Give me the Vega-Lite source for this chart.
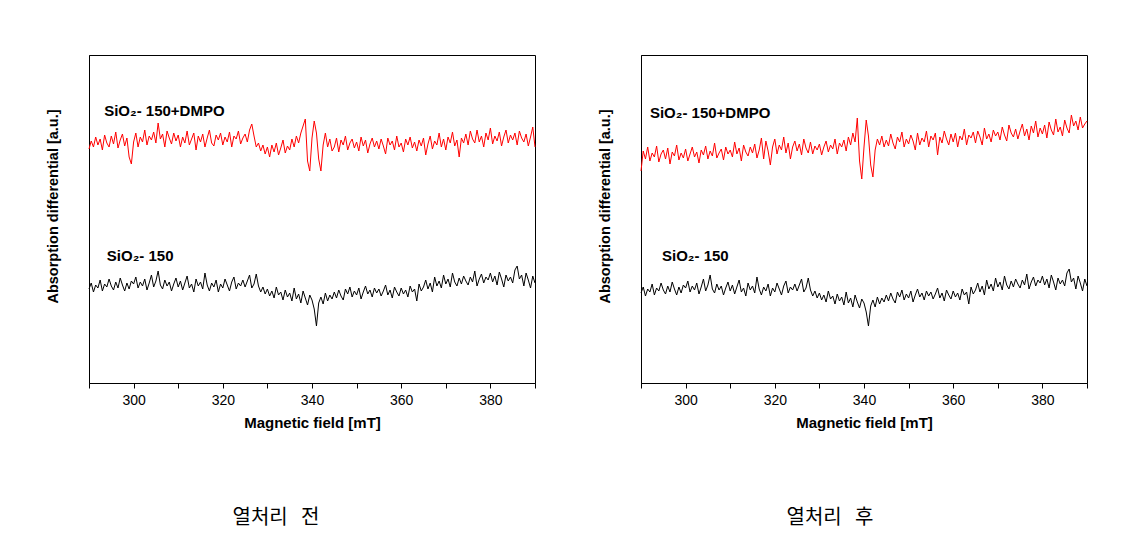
{
"$schema": "https://vega.github.io/schema/vega-lite/v6.json",
"background": "white",
"padding": {"left": 44, "top": 54, "right": 0, "bottom": 0},
"spacing": 58,
"config": {
  "view": {"stroke": "black", "strokeWidth": 1},
  "font": "Liberation Sans",
  "axis": {"grid": false, "domainColor": "black", "tickColor": "black", "labelColor": "black", "titleColor": "black", "labelFont": "Liberation Sans", "titleFont": "Liberation Sans"}
},
"datasets": {
"esr": [
{"x":290,"a":234,"b":94,"c":212,"d":90},{"x":290.5,"a":242,"b":100,"c":232,"d":96},{"x":291,"a":236,"b":91,"c":224,"d":87},{"x":291.5,"a":246,"b":98,"c":236,"d":94},{"x":292,"a":238,"b":95,"c":222,"d":91},{"x":292.5,"a":244,"b":103,"c":230,"d":99},{"x":293,"a":233,"b":92,"c":226,"d":88},{"x":293.5,"a":248,"b":99,"c":237,"d":95},{"x":294,"a":240,"b":96,"c":221,"d":92},{"x":294.5,"a":236,"b":104,"c":229,"d":100},
{"x":295,"a":247,"b":97,"c":233,"d":93},{"x":295.5,"a":239,"b":93,"c":224,"d":89},{"x":296,"a":251,"b":101,"c":235,"d":97},{"x":296.5,"a":235,"b":95,"c":219,"d":91},{"x":297,"a":243,"b":105,"c":231,"d":101},{"x":297.5,"a":249,"b":98,"c":227,"d":94},{"x":298,"a":237,"b":92,"c":238,"d":88},{"x":298.5,"a":245,"b":100,"c":223,"d":96},{"x":299,"a":226,"b":94,"c":230,"d":90},{"x":299.5,"a":219,"b":102,"c":225,"d":98},
{"x":300,"a":241,"b":99,"c":234,"d":95},{"x":300.5,"a":250,"b":106,"c":222,"d":102},{"x":301,"a":236,"b":95,"c":229,"d":91},{"x":301.5,"a":246,"b":101,"c":236,"d":97},{"x":302,"a":241,"b":97,"c":226,"d":93},{"x":302.5,"a":253,"b":104,"c":231,"d":100},{"x":303,"a":238,"b":93,"c":220,"d":89},{"x":303.5,"a":247,"b":100,"c":233,"d":96},{"x":304,"a":243,"b":108,"c":228,"d":104},{"x":304.5,"a":251,"b":96,"c":237,"d":92},
{"x":305,"a":240,"b":102,"c":224,"d":98},{"x":305.5,"a":260,"b":112,"c":232,"d":108},{"x":306,"a":244,"b":98,"c":227,"d":94},{"x":306.5,"a":249,"b":94,"c":240,"d":90},{"x":307,"a":236,"b":103,"c":225,"d":99},{"x":307.5,"a":252,"b":97,"c":230,"d":93},{"x":308,"a":245,"b":101,"c":234,"d":97},{"x":308.5,"a":239,"b":92,"c":223,"d":88},{"x":309,"a":250,"b":99,"c":236,"d":95},{"x":309.5,"a":242,"b":105,"c":229,"d":101},
{"x":310,"a":248,"b":96,"c":233,"d":92},{"x":310.5,"a":236,"b":102,"c":226,"d":98},{"x":311,"a":246,"b":93,"c":241,"d":89},{"x":311.5,"a":240,"b":100,"c":229,"d":96},{"x":312,"a":252,"b":107,"c":235,"d":103},{"x":312.5,"a":238,"b":95,"c":222,"d":91},{"x":313,"a":244,"b":99,"c":238,"d":95},{"x":313.5,"a":250,"b":91,"c":231,"d":87},{"x":314,"a":233,"b":104,"c":227,"d":100},{"x":314.5,"a":247,"b":97,"c":236,"d":93},
{"x":315,"a":241,"b":101,"c":230,"d":97},{"x":315.5,"a":249,"b":94,"c":239,"d":90},{"x":316,"a":236,"b":110,"c":225,"d":106},{"x":316.5,"a":245,"b":98,"c":233,"d":94},{"x":317,"a":253,"b":92,"c":245,"d":88},{"x":317.5,"a":240,"b":100,"c":224,"d":96},{"x":318,"a":237,"b":96,"c":242,"d":92},{"x":318.5,"a":248,"b":103,"c":232,"d":99},{"x":319,"a":243,"b":91,"c":218,"d":87},{"x":319.5,"a":250,"b":99,"c":236,"d":95},
{"x":320,"a":238,"b":95,"c":244,"d":91},{"x":320.5,"a":246,"b":104,"c":229,"d":100},{"x":321,"a":241,"b":98,"c":238,"d":94},{"x":321.5,"a":251,"b":92,"c":233,"d":88},{"x":322,"a":236,"b":101,"c":246,"d":97},{"x":322.5,"a":247,"b":106,"c":230,"d":102},{"x":323,"a":244,"b":94,"c":240,"d":90},{"x":323.5,"a":252,"b":100,"c":224,"d":96},{"x":324,"a":239,"b":97,"c":236,"d":93},{"x":324.5,"a":245,"b":103,"c":242,"d":99},
{"x":325,"a":249,"b":96,"c":232,"d":92},{"x":325.5,"a":241,"b":102,"c":239,"d":98},{"x":326,"a":253,"b":108,"c":228,"d":104},{"x":326.5,"a":259,"b":95,"c":244,"d":91},{"x":327,"a":247,"b":99,"c":235,"d":95},{"x":327.5,"a":236,"b":109,"c":230,"d":105},{"x":328,"a":240,"b":97,"c":241,"d":93},{"x":328.5,"a":232,"b":91,"c":229,"d":87},{"x":329,"a":238,"b":96,"c":237,"d":92},{"x":329.5,"a":229,"b":89,"c":233,"d":85},
{"x":330,"a":236,"b":94,"c":239,"d":90},{"x":330.5,"a":226,"b":87,"c":228,"d":83},{"x":331,"a":238,"b":92,"c":236,"d":88},{"x":331.5,"a":231,"b":85,"c":242,"d":81},{"x":332,"a":240,"b":96,"c":231,"d":92},{"x":332.5,"a":228,"b":88,"c":238,"d":84},{"x":333,"a":235,"b":91,"c":234,"d":87},{"x":333.5,"a":243,"b":83,"c":244,"d":79},{"x":334,"a":230,"b":93,"c":229,"d":89},{"x":334.5,"a":237,"b":86,"c":240,"d":82},
{"x":335,"a":233,"b":90,"c":236,"d":86},{"x":335.5,"a":244,"b":82,"c":243,"d":78},{"x":336,"a":236,"b":95,"c":232,"d":91},{"x":336.5,"a":247,"b":84,"c":246,"d":80},{"x":337,"a":240,"b":89,"c":238,"d":85},{"x":337.5,"a":250,"b":80,"c":250,"d":76},{"x":338,"a":257,"b":92,"c":241,"d":88},{"x":338.5,"a":264,"b":85,"c":265,"d":81},{"x":339,"a":222,"b":78,"c":222,"d":75},{"x":339.5,"a":212,"b":88,"c":204,"d":84},
{"x":340,"a":245,"b":83,"c":236,"d":80},{"x":340.5,"a":262,"b":74,"c":263,"d":71},{"x":341,"a":250,"b":57,"c":247,"d":57},{"x":341.5,"a":224,"b":80,"c":218,"d":77},{"x":342,"a":212,"b":86,"c":206,"d":83},{"x":342.5,"a":238,"b":79,"c":233,"d":76},{"x":343,"a":250,"b":90,"c":244,"d":86},{"x":343.5,"a":236,"b":82,"c":238,"d":79},{"x":344,"a":244,"b":88,"c":247,"d":85},{"x":344.5,"a":232,"b":84,"c":236,"d":81},
{"x":345,"a":236,"b":91,"c":243,"d":88},{"x":345.5,"a":245,"b":85,"c":237,"d":82},{"x":346,"a":231,"b":93,"c":249,"d":90},{"x":346.5,"a":243,"b":87,"c":240,"d":84},{"x":347,"a":238,"b":83,"c":234,"d":80},{"x":347.5,"a":247,"b":94,"c":246,"d":91},{"x":348,"a":233,"b":89,"c":241,"d":86},{"x":348.5,"a":240,"b":96,"c":251,"d":93},{"x":349,"a":244,"b":86,"c":236,"d":83},{"x":349.5,"a":235,"b":92,"c":244,"d":89},
{"x":350,"a":241,"b":88,"c":239,"d":85},{"x":350.5,"a":232,"b":95,"c":248,"d":92},{"x":351,"a":246,"b":84,"c":242,"d":81},{"x":351.5,"a":237,"b":91,"c":233,"d":88},{"x":352,"a":243,"b":97,"c":250,"d":94},{"x":352.5,"a":230,"b":89,"c":238,"d":86},{"x":353,"a":239,"b":93,"c":245,"d":90},{"x":353.5,"a":245,"b":86,"c":241,"d":83},{"x":354,"a":236,"b":95,"c":252,"d":92},{"x":354.5,"a":242,"b":90,"c":236,"d":87},
{"x":355,"a":234,"b":94,"c":247,"d":91},{"x":355.5,"a":244,"b":87,"c":243,"d":84},{"x":356,"a":237,"b":92,"c":250,"d":89},{"x":356.5,"a":229,"b":98,"c":228,"d":95},{"x":357,"a":245,"b":88,"c":246,"d":85},{"x":357.5,"a":238,"b":93,"c":240,"d":90},{"x":358,"a":242,"b":85,"c":252,"d":82},{"x":358.5,"a":233,"b":96,"c":244,"d":93},{"x":359,"a":247,"b":91,"c":238,"d":88},{"x":359.5,"a":236,"b":87,"c":249,"d":84},
{"x":360,"a":240,"b":95,"c":241,"d":92},{"x":360.5,"a":231,"b":89,"c":250,"d":86},{"x":361,"a":244,"b":93,"c":236,"d":90},{"x":361.5,"a":238,"b":86,"c":247,"d":83},{"x":362,"a":246,"b":97,"c":243,"d":94},{"x":362.5,"a":235,"b":91,"c":254,"d":88},{"x":363,"a":241,"b":94,"c":238,"d":91},{"x":363.5,"a":232,"b":82,"c":248,"d":79},{"x":364,"a":243,"b":99,"c":245,"d":96},{"x":364.5,"a":237,"b":92,"c":251,"d":89},
{"x":365,"a":245,"b":96,"c":240,"d":93},{"x":365.5,"a":228,"b":103,"c":252,"d":100},{"x":366,"a":239,"b":94,"c":246,"d":91},{"x":366.5,"a":247,"b":100,"c":238,"d":97},{"x":367,"a":234,"b":91,"c":255,"d":88},{"x":367.5,"a":242,"b":106,"c":244,"d":103},{"x":368,"a":238,"b":97,"c":249,"d":94},{"x":368.5,"a":250,"b":102,"c":241,"d":99},{"x":369,"a":236,"b":95,"c":253,"d":92},{"x":369.5,"a":244,"b":108,"c":247,"d":105},
{"x":370,"a":233,"b":99,"c":251,"d":96},{"x":370.5,"a":246,"b":104,"c":243,"d":101},{"x":371,"a":240,"b":96,"c":256,"d":93},{"x":371.5,"a":251,"b":110,"c":248,"d":107},{"x":372,"a":237,"b":101,"c":242,"d":98},{"x":372.5,"a":243,"b":97,"c":258,"d":94},{"x":373,"a":226,"b":105,"c":250,"d":102},{"x":373.5,"a":245,"b":99,"c":246,"d":96},{"x":374,"a":240,"b":107,"c":254,"d":104},{"x":374.5,"a":249,"b":102,"c":244,"d":99},
{"x":375,"a":238,"b":98,"c":252,"d":95},{"x":375.5,"a":252,"b":106,"c":259,"d":103},{"x":376,"a":244,"b":101,"c":247,"d":98},{"x":376.5,"a":240,"b":112,"c":254,"d":109},{"x":377,"a":253,"b":97,"c":243,"d":94},{"x":377.5,"a":241,"b":104,"c":257,"d":101},{"x":378,"a":247,"b":109,"c":250,"d":106},{"x":378.5,"a":236,"b":100,"c":262,"d":97},{"x":379,"a":250,"b":106,"c":246,"d":103},{"x":379.5,"a":243,"b":103,"c":255,"d":100},
{"x":380,"a":255,"b":110,"c":249,"d":107},{"x":380.5,"a":239,"b":101,"c":258,"d":98},{"x":381,"a":247,"b":107,"c":245,"d":104},{"x":381.5,"a":242,"b":98,"c":261,"d":95},{"x":382,"a":251,"b":111,"c":253,"d":108},{"x":382.5,"a":237,"b":104,"c":248,"d":101},{"x":383,"a":246,"b":96,"c":264,"d":93},{"x":383.5,"a":253,"b":108,"c":251,"d":105},{"x":384,"a":240,"b":102,"c":256,"d":99},{"x":384.5,"a":248,"b":106,"c":247,"d":103},
{"x":385,"a":243,"b":100,"c":263,"d":97},{"x":385.5,"a":250,"b":113,"c":255,"d":110},{"x":386,"a":238,"b":117,"c":250,"d":114},{"x":386.5,"a":252,"b":104,"c":268,"d":101},{"x":387,"a":245,"b":108,"c":257,"d":105},{"x":387.5,"a":241,"b":97,"c":262,"d":94},{"x":388,"a":249,"b":110,"c":253,"d":107},{"x":388.5,"a":237,"b":103,"c":266,"d":100},{"x":389,"a":246,"b":95,"c":255,"d":92},{"x":389.5,"a":256,"b":107,"c":259,"d":104},
{"x":390,"a":236,"b":100,"c":262,"d":97}
]
},
"hconcat": [
{
  "width": 446, "height": 328,
  "title": {"text": "열처리\u00a0\u00a0\u00a0전", "orient": "bottom", "anchor": "middle", "frame": "group", "dx": -36, "offset": 78, "font": "Noto Sans CJK KR", "fontSize": 20, "fontWeight": "normal", "color": "black"},
  "layer": [
    {
      "data": {"name": "esr"},
      "transform": [{"fold": ["a", "b"], "as": ["s", "y"]}],
      "mark": {"type": "line", "strokeWidth": 1},
      "encoding": {
        "x": {"field": "x", "type": "quantitative", "scale": {"domain": [290, 390], "nice": false, "zero": false},
              "axis": {"values": [290,300,310,320,330,340,350,360,370,380,390], "labelExpr": "datum.value % 20 == 0 ? datum.label : ''", "labelOverlap": false, "labelFlush": false, "tickSize": 5, "labelFontSize": 14, "labelPadding": 5, "title": "Magnetic field [mT]", "titleFontSize": 15, "titleFontWeight": "bold", "titlePadding": 8}},
        "y": {"field": "y", "type": "quantitative", "scale": {"domain": [0, 328], "nice": false, "zero": false},
              "axis": {"title": "Absorption differential [a.u.]", "labels": false, "ticks": false, "titleFontSize": 14.5, "titleFontWeight": "bold", "titleX": -29, "titleY": 151}},
        "color": {"field": "s", "type": "nominal", "scale": {"domain": ["a", "b", "c", "d"], "range": ["#ff0000", "#000000", "#ff0000", "#000000"]}, "legend": null}
      }
    },
    {
      "data": {"values": [{"x": 293.4, "y": 272, "t": "SiO₂- 150+DMPO"}, {"x": 294, "y": 127, "t": "SiO₂- 150"}]},
      "mark": {"type": "text", "align": "left", "baseline": "middle", "fontSize": 15, "fontWeight": "bold", "font": "Liberation Sans", "color": "black"},
      "encoding": {
        "x": {"field": "x", "type": "quantitative"},
        "y": {"field": "y", "type": "quantitative"},
        "text": {"field": "t"}
      }
    }
  ]
},
{
  "width": 446, "height": 328,
  "title": {"text": "열처리\u00a0\u00a0\u00a0후", "orient": "bottom", "anchor": "middle", "frame": "group", "dx": -34, "offset": 78, "font": "Noto Sans CJK KR", "fontSize": 20, "fontWeight": "normal", "color": "black"},
  "layer": [
    {
      "data": {"name": "esr"},
      "transform": [{"fold": ["c", "d"], "as": ["s", "y"]}],
      "mark": {"type": "line", "strokeWidth": 1},
      "encoding": {
        "x": {"field": "x", "type": "quantitative", "scale": {"domain": [290, 390], "nice": false, "zero": false},
              "axis": {"values": [290,300,310,320,330,340,350,360,370,380,390], "labelExpr": "datum.value % 20 == 0 ? datum.label : ''", "labelOverlap": false, "labelFlush": false, "tickSize": 5, "labelFontSize": 14, "labelPadding": 5, "title": "Magnetic field [mT]", "titleFontSize": 15, "titleFontWeight": "bold", "titlePadding": 8}},
        "y": {"field": "y", "type": "quantitative", "scale": {"domain": [0, 328], "nice": false, "zero": false},
              "axis": {"title": "Absorption differential [a.u.]", "labels": false, "ticks": false, "titleFontSize": 14.5, "titleFontWeight": "bold", "titleX": -29, "titleY": 151}},
        "color": {"field": "s", "type": "nominal", "scale": {"domain": ["a", "b", "c", "d"], "range": ["#ff0000", "#000000", "#ff0000", "#000000"]}, "legend": null}
      }
    },
    {
      "data": {"values": [{"x": 292, "y": 270, "t": "SiO₂- 150+DMPO"}, {"x": 294.7, "y": 127, "t": "SiO₂- 150"}]},
      "mark": {"type": "text", "align": "left", "baseline": "middle", "fontSize": 15, "fontWeight": "bold", "font": "Liberation Sans", "color": "black"},
      "encoding": {
        "x": {"field": "x", "type": "quantitative"},
        "y": {"field": "y", "type": "quantitative"},
        "text": {"field": "t"}
      }
    }
  ]
}
]
}
